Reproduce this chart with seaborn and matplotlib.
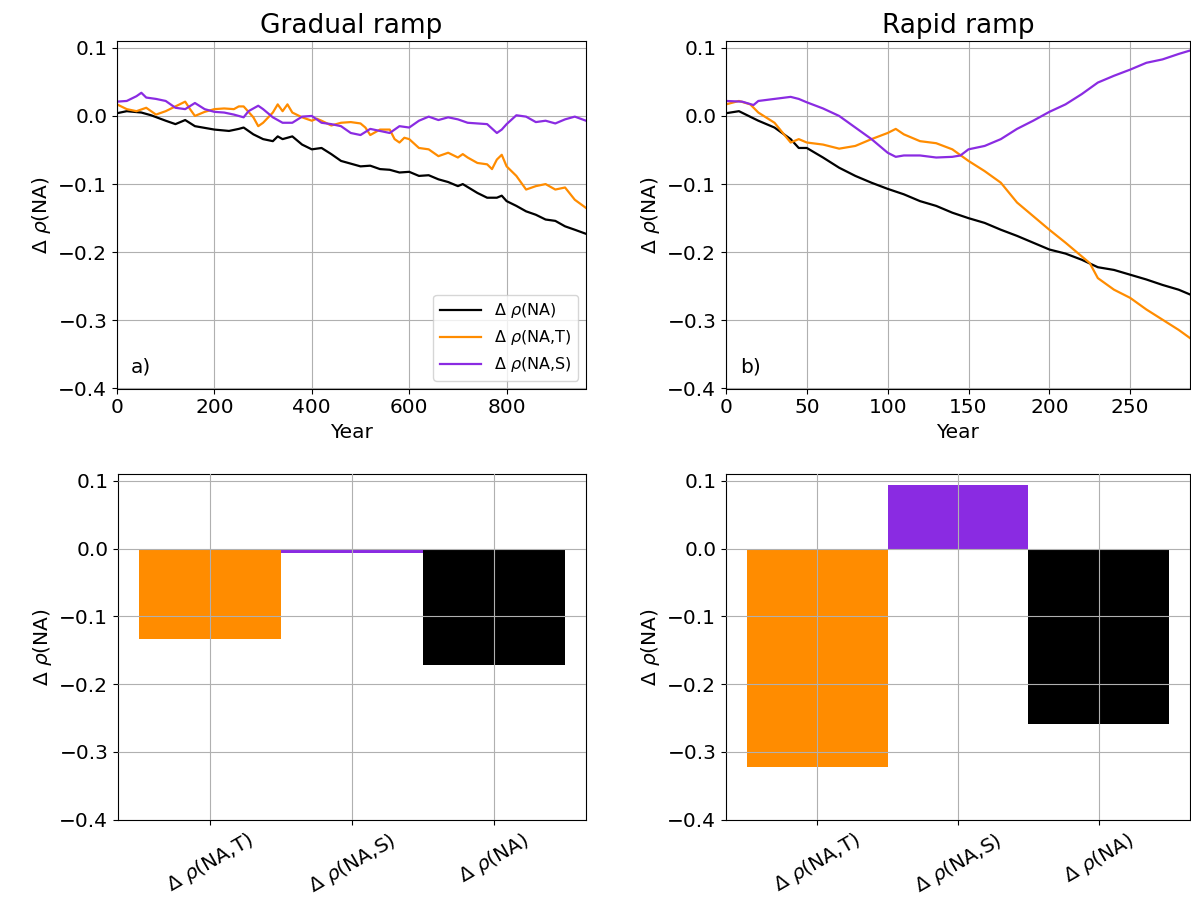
import numpy as np
import pandas as pd
import matplotlib
matplotlib.use("Agg")
import matplotlib.pyplot as plt
import seaborn as sns

# ---- data ----
# Gradual ramp (years 0..~963)
grad_years_na = [0, 20, 50, 70, 100, 120, 140, 160, 200, 230, 250, 260, 280, 300, 320, 330, 340, 360,
                 380, 400, 420, 440, 460, 480, 500, 520, 540, 560, 580, 600, 620, 640, 660, 680, 700,
                 710, 740, 760, 780, 790, 800, 820, 840, 860, 880, 900, 920, 940, 963]
grad_na = [0.004, 0.007, 0.005, 0.001, -0.007, -0.012, -0.006, -0.015, -0.020, -0.022, -0.019, -0.017,
           -0.027, -0.034, -0.037, -0.030, -0.034, -0.030, -0.042, -0.049, -0.047, -0.056, -0.066,
           -0.070, -0.074, -0.073, -0.078, -0.079, -0.083, -0.082, -0.088, -0.087, -0.093, -0.097,
           -0.103, -0.100, -0.113, -0.120, -0.120, -0.117, -0.125, -0.132, -0.140, -0.145, -0.152,
           -0.154, -0.162, -0.167, -0.173]

grad_years_t = [0, 20, 40, 60, 80, 100, 120, 140, 150, 160, 180, 200, 220, 240, 250, 260, 280, 290, 300,
                320, 330, 340, 350, 360, 380, 400, 410, 420, 440, 460, 480, 500, 510, 520, 540, 560,
                570, 580, 590, 600, 620, 640, 660, 680, 700, 710, 720, 740, 760, 770, 780, 790, 800,
                820, 840, 860, 880, 900, 920, 940, 963]
grad_t = [0.017, 0.010, 0.007, 0.012, 0.002, 0.007, 0.014, 0.021, 0.010, 0.000, 0.006, 0.010, 0.011,
          0.010, 0.014, 0.014, -0.002, -0.015, -0.010, 0.005, 0.017, 0.007, 0.017, 0.005, -0.002,
          -0.007, -0.004, -0.007, -0.014, -0.010, -0.009, -0.011, -0.017, -0.028, -0.020, -0.020,
          -0.034, -0.039, -0.032, -0.034, -0.047, -0.049, -0.059, -0.054, -0.061, -0.056, -0.061,
          -0.069, -0.071, -0.078, -0.064, -0.057, -0.074, -0.088, -0.108, -0.103, -0.100, -0.108,
          -0.105, -0.123, -0.135]

grad_years_s = [0, 20, 40, 50, 60, 80, 100, 120, 140, 160, 180, 200, 220, 240, 260, 270, 290, 300, 320,
                340, 360, 380, 400, 420, 440, 460, 480, 500, 520, 540, 560, 580, 600, 620, 640, 660,
                680, 700, 720, 740, 760, 780, 790, 800, 820, 840, 860, 880, 900, 920, 940, 963]
grad_s = [0.021, 0.022, 0.029, 0.034, 0.027, 0.025, 0.022, 0.012, 0.010, 0.019, 0.010, 0.006, 0.005,
          0.002, -0.002, 0.007, 0.015, 0.010, -0.002, -0.010, -0.010, -0.001, 0.000, -0.010, -0.012,
          -0.015, -0.025, -0.028, -0.019, -0.022, -0.025, -0.015, -0.017, -0.007, -0.001, -0.006,
          -0.002, -0.005, -0.010, -0.011, -0.012, -0.025, -0.020, -0.012, 0.001, -0.001, -0.009,
          -0.007, -0.011, -0.005, -0.001, -0.007]

# Rapid ramp (years 0..~287)
rapid_years_na = [0, 8, 20, 30, 40, 45, 50, 60, 70, 80, 90, 100, 110, 120, 130, 140, 150, 160, 170, 180,
                  190, 200, 210, 220, 230, 240, 250, 260, 270, 280, 287]
rapid_na = [0.004, 0.007, -0.007, -0.017, -0.034, -0.047, -0.047, -0.061, -0.076, -0.088, -0.098,
            -0.107, -0.115, -0.125, -0.132, -0.142, -0.150, -0.157, -0.167, -0.176, -0.186, -0.196,
            -0.202, -0.211, -0.222, -0.226, -0.233, -0.240, -0.248, -0.255, -0.262]

rapid_years_t = [0, 8, 15, 20, 30, 40, 45, 50, 60, 70, 80, 90, 100, 105, 110, 120, 130, 140, 150, 160,
                 170, 180, 190, 200, 210, 220, 225, 230, 240, 250, 260, 270, 280, 287]
rapid_t = [0.017, 0.022, 0.017, 0.005, -0.010, -0.039, -0.034, -0.039, -0.042, -0.048, -0.044, -0.034,
           -0.025, -0.019, -0.027, -0.037, -0.040, -0.049, -0.066, -0.081, -0.098, -0.127, -0.147,
           -0.167, -0.186, -0.206, -0.216, -0.238, -0.255, -0.267, -0.284, -0.299, -0.314, -0.326]

rapid_years_s = [0, 10, 17, 20, 30, 40, 45, 50, 60, 70, 80, 90, 100, 105, 110, 120, 130, 140, 145, 150,
                 160, 170, 180, 190, 200, 210, 220, 230, 240, 250, 260, 270, 280, 287]
rapid_s = [0.022, 0.021, 0.016, 0.022, 0.025, 0.028, 0.025, 0.020, 0.011, 0.000, -0.017, -0.034,
           -0.054, -0.060, -0.058, -0.058, -0.061, -0.060, -0.058, -0.049, -0.044, -0.034, -0.019,
           -0.007, 0.006, 0.017, 0.032, 0.049, 0.059, 0.068, 0.078, 0.083, 0.091, 0.096]

# bar charts: contributions at end of run
bar_labels = [r'$\Delta$ $\rho$(NA,T)', r'$\Delta$ $\rho$(NA,S)', r'$\Delta$ $\rho$(NA)']
grad_bars = [-0.133, -0.006, -0.172]
rapid_bars = [-0.323, 0.094, -0.259]

line_labels = [r'$\Delta$ $\rho$(NA)', r'$\Delta$ $\rho$(NA,T)', r'$\Delta$ $\rho$(NA,S)']
colors = ['black', 'darkorange', 'blueviolet']
bar_colors = ['darkorange', 'blueviolet', 'black']


def long_df(years_list, values_list):
    frames = []
    for yrs, vals, lab in zip(years_list, values_list, line_labels):
        frames.append(pd.DataFrame({'Year': yrs, 'value': vals, 'series': lab}))
    return pd.concat(frames, ignore_index=True)


grad_df = long_df([grad_years_na, grad_years_t, grad_years_s], [grad_na, grad_t, grad_s])
rapid_df = long_df([rapid_years_na, rapid_years_t, rapid_years_s], [rapid_na, rapid_t, rapid_s])

plt.rcParams['font.size'] = 14.5

fig = plt.figure(figsize=(11.91, 9.15), dpi=100)
W, H = 1191, 915


def px_axes(x0, x1, ytop, ybot):
    return fig.add_axes([x0 / W, 1 - ybot / H, (x1 - x0) / W, (ybot - ytop) / H])


ax_a = px_axes(117, 586, 41, 388.5)
ax_b = px_axes(726, 1190, 41, 388.5)
ax_c = px_axes(118, 586, 474, 819.5)
ax_d = px_axes(726, 1190, 474, 819.5)

palette = dict(zip(line_labels, colors))
yticks = [-0.4, -0.3, -0.2, -0.1, 0.0, 0.1]
ytick_labels = ['\u22120.4', '\u22120.3', '\u22120.2', '\u22120.1', '0.0', '0.1']

# top panels: time series
for ax, df, title, tag, xmax in [(ax_a, grad_df, 'Gradual ramp', 'a)', 963),
                                 (ax_b, rapid_df, 'Rapid ramp', 'b)', 287)]:
    sns.lineplot(data=df, x='Year', y='value', hue='series', hue_order=line_labels,
                 palette=palette, linewidth=1.6, ax=ax, legend=(ax is ax_a))
    ax.set_xlim(0, xmax)
    ax.set_ylim(-0.4, 0.11)
    ax.set_yticks(yticks)
    ax.set_yticklabels(ytick_labels)
    ax.grid(True)
    ax.set_xlabel('Year')
    ax.set_ylabel(r'$\Delta$ $\rho$(NA)')
    ax.set_title(title, fontsize=19)
    ax.text(0.03, 0.035, tag, transform=ax.transAxes, ha='left', va='bottom')

sns.move_legend(ax_a, 'lower right', title=None, fontsize=11.5, handlelength=2.6)

# bottom panels: bar charts
for ax, vals in [(ax_c, grad_bars), (ax_d, rapid_bars)]:
    bdf = pd.DataFrame({'term': bar_labels, 'value': vals})
    sns.barplot(data=bdf, x='term', y='value', hue='term', palette=bar_colors,
                width=1.0, legend=False, ax=ax, saturation=1)
    ax.set_xlim(-0.65, 2.65)
    ax.set_ylim(-0.4, 0.11)
    ax.set_yticks(yticks)
    ax.set_yticklabels(ytick_labels)
    ax.grid(True)
    ax.set_axisbelow(False)
    for p in ax.patches:
        p.set_zorder(1)
    ax.set_xlabel('')
    ax.set_ylabel(r'$\Delta$ $\rho$(NA)')
    ax.tick_params(axis='x', labelrotation=30)

fig.savefig('out.png', dpi=100)
